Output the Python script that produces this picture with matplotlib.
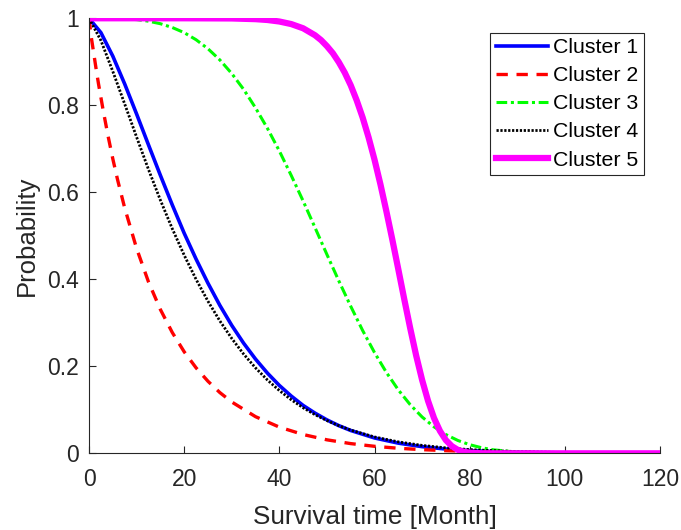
import numpy as np
import matplotlib
matplotlib.use('Agg')
import matplotlib.pyplot as plt

matplotlib.rcParams['font.family'] = ['Liberation Sans', 'DejaVu Sans']

# survival curves
t1 = [0, 2.5, 5, 7.5, 10, 12.5, 15, 17.5, 20, 22.5, 25, 27.5, 30, 32.5, 35, 37.5, 40, 42.5, 45, 47.5,
      50, 52.5, 55, 60, 65, 70, 75, 80, 85, 90, 100, 110, 120]
s1 = [1.0, 0.967, 0.913, 0.849, 0.780, 0.709, 0.639, 0.571, 0.506, 0.4465, 0.391, 0.340, 0.294, 0.253,
      0.2165, 0.1843, 0.156, 0.1316, 0.110, 0.0923, 0.0768, 0.0636, 0.0525, 0.0353, 0.0234, 0.0153,
      0.0098, 0.0063, 0.0039, 0.0024, 0.0009, 0.0003, 0.0001]

t2 = [0, 0.2, 0.5, 1, 1.5, 2, 3, 4, 5, 6, 7.5, 10, 12.5, 15, 17.5, 20, 22.5, 25, 27.5, 30, 35, 40, 45,
      50, 55, 60, 65, 70, 75, 80, 90, 100, 110, 120]
s2 = [1.0, 0.982, 0.955, 0.919, 0.883, 0.849, 0.787, 0.7296, 0.677, 0.629, 0.564, 0.471, 0.394, 0.3306,
      0.2777, 0.2334, 0.1965, 0.1656, 0.1396, 0.118, 0.0842, 0.0602, 0.0432, 0.0310, 0.0223, 0.0161,
      0.0116, 0.0084, 0.0061, 0.0044, 0.0023, 0.0012, 0.0006, 0.0003]

t3 = [0, 5, 10, 12.5, 15, 17.5, 20, 22.5, 25, 27.5, 30, 32.5, 35, 37.5, 40, 42.5, 45, 47.5, 50, 52.5,
      55, 57.5, 60, 62.5, 65, 67.5, 70, 72.5, 75, 77.5, 80, 82.5, 85, 90, 95, 100, 110, 120]
s3 = [1.0, 1.0, 0.997, 0.9933, 0.9875, 0.9788, 0.967, 0.9507, 0.930, 0.9042, 0.873, 0.8365, 0.794,
      0.7469, 0.695, 0.6387, 0.580, 0.5187, 0.457, 0.3963, 0.338, 0.2824, 0.2316, 0.1858, 0.1458,
      0.1118, 0.0835, 0.0609, 0.0431, 0.0296, 0.0198, 0.0128, 0.0080, 0.0028, 0.0008, 0.0002, 0.0, 0.0]

t4 = [0, 2.5, 5, 7.5, 10, 12.5, 15, 17.5, 20, 22.5, 25, 27.5, 30, 32.5, 35, 37.5, 40, 42.5, 45, 47.5,
      50, 52.5, 55, 60, 65, 70, 75, 80, 90, 100, 110, 120]
s4 = [1.0, 0.949, 0.878, 0.803, 0.727, 0.6525, 0.582, 0.5163, 0.4555, 0.3999, 0.3496, 0.3043, 0.264,
      0.228, 0.1963, 0.1685, 0.1443, 0.1231, 0.1047, 0.0888, 0.0752, 0.0635, 0.0534, 0.0376, 0.0263,
      0.0182, 0.0125, 0.0085, 0.0039, 0.0017, 0.0007, 0.0003]

t5 = [0, 10, 20, 30, 35, 37.5, 40, 42.5, 45, 47.5, 48.75, 50, 51.25, 52.5, 53.75, 55, 56.25, 57.5,
      58.75, 60, 61.25, 62.5, 63.75, 65, 66.25, 67.5, 68.75, 70, 71.25, 72.5, 73.75, 75, 76.25, 77.5,
      78.75, 80, 82.5, 85, 90, 100, 110, 120]
s5 = [1.0, 1.0, 1.0, 0.9996, 0.998, 0.9961, 0.9926, 0.9867, 0.977, 0.961, 0.950, 0.936, 0.9196, 0.899,
      0.8749, 0.846, 0.8115, 0.772, 0.7263, 0.675, 0.618, 0.556, 0.4908, 0.423, 0.3542, 0.2876, 0.2248,
      0.1687, 0.1205, 0.0812, 0.0514, 0.0302, 0.0164, 0.0080, 0.0035, 0.0014, 0.0001, 0.0, 0.0, 0.0,
      0.0, 0.0]

labels = ['Cluster 1', 'Cluster 2', 'Cluster 3', 'Cluster 4', 'Cluster 5']
xticks = [0, 20, 40, 60, 80, 100, 120]
yticks = [0, 0.2, 0.4, 0.6, 0.8, 1]
ytick_labels = ['0', '0.2', '0.4', '0.6', '0.8', '1']

fig = plt.figure(figsize=(6.81, 5.30), dpi=100)
ax = fig.add_axes([0.1307, 0.1447, 0.8385, 0.8208])

ax.plot(t1, s1, color='#0000ff', lw=2.6, ls='-', label=labels[0])
ax.plot(t2, s2, color='#ff0000', lw=2.4, ls=(0, (3.4, 2.6)), label=labels[1])
ax.plot(t3, s3, color='#00ff00', lw=2.2, ls=(0, (3.5, 1.2, 1.0, 1.2)), label=labels[2])
ax.plot(t4, s4, color='black', lw=2.0, ls=(0, (0.8, 0.6)), label=labels[3])
ax.plot(t5, s5, color='#ff00ff', lw=4.5, ls='-', label=labels[4])

ax.set_xlim(0, 120)
ax.set_ylim(0, 1)
ax.set_xticks(xticks)
ax.set_yticks(yticks)
ax.set_yticklabels(ytick_labels)
ax.spines['top'].set_visible(False)
ax.spines['right'].set_visible(False)
for s in ['left', 'bottom']:
    ax.spines[s].set_color('#262626')
    ax.spines[s].set_linewidth(0.8)
ax.tick_params(direction='in', length=5, width=0.8, color='#262626',
               labelcolor='#262626', labelsize=16.5)
ax.tick_params(axis='x', pad=10.5)
ax.tick_params(axis='y', pad=7)

ax.set_xlabel('Survival time [Month]', fontsize=18.8, color='#262626', labelpad=10)
ax.set_ylabel('Probability', fontsize=18.5, color='#262626', labelpad=6.5)

leg = ax.legend(loc='upper right', bbox_to_anchor=(0.972, 0.967), borderaxespad=0,
                fontsize=15.3, fancybox=False, framealpha=1, handlelength=2.45,
                handletextpad=0.27, labelspacing=0.43, borderpad=0.25)
leg.get_frame().set_edgecolor('#262626')
leg.get_frame().set_linewidth(0.8)

fig.savefig('out.png', dpi=100)
